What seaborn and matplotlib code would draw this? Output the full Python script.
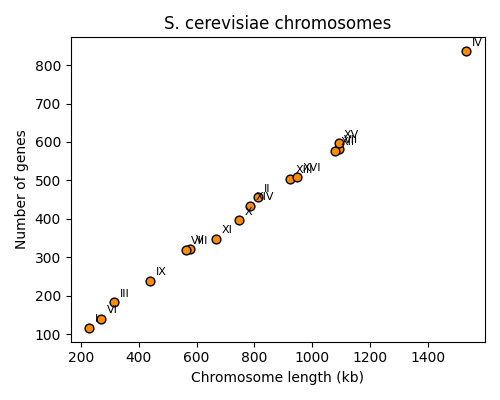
import matplotlib
matplotlib.use("Agg")
import matplotlib.pyplot as plt
import seaborn as sns

names = ["I", "II", "III", "IV", "V", "VI", "VII", "VIII", "IX", "X",
         "XI", "XII", "XIII", "XIV", "XV", "XVI"]
length_kb = [230, 813, 316, 1532, 577, 270, 1091, 563, 440, 746,
             667, 1078, 924, 784, 1091, 948]
genes = [117, 456, 183, 836, 323, 140, 583, 320, 240, 397,
         349, 577, 505, 434, 597, 510]

fig, ax = plt.subplots(figsize=(5, 4), dpi=100)
sns.scatterplot(x=length_kb, y=genes, color="darkorange", edgecolor="black",
                s=40, linewidth=1, ax=ax, zorder=3)
for n, x, y in zip(names, length_kb, genes):
    ax.annotate(n, (x, y), xytext=(4, 4), textcoords="offset points", fontsize=8)

ax.set_xlabel("Chromosome length (kb)")
ax.set_ylabel("Number of genes")
ax.set_title("S. cerevisiae chromosomes")
plt.tight_layout()
plt.savefig("out.png")
